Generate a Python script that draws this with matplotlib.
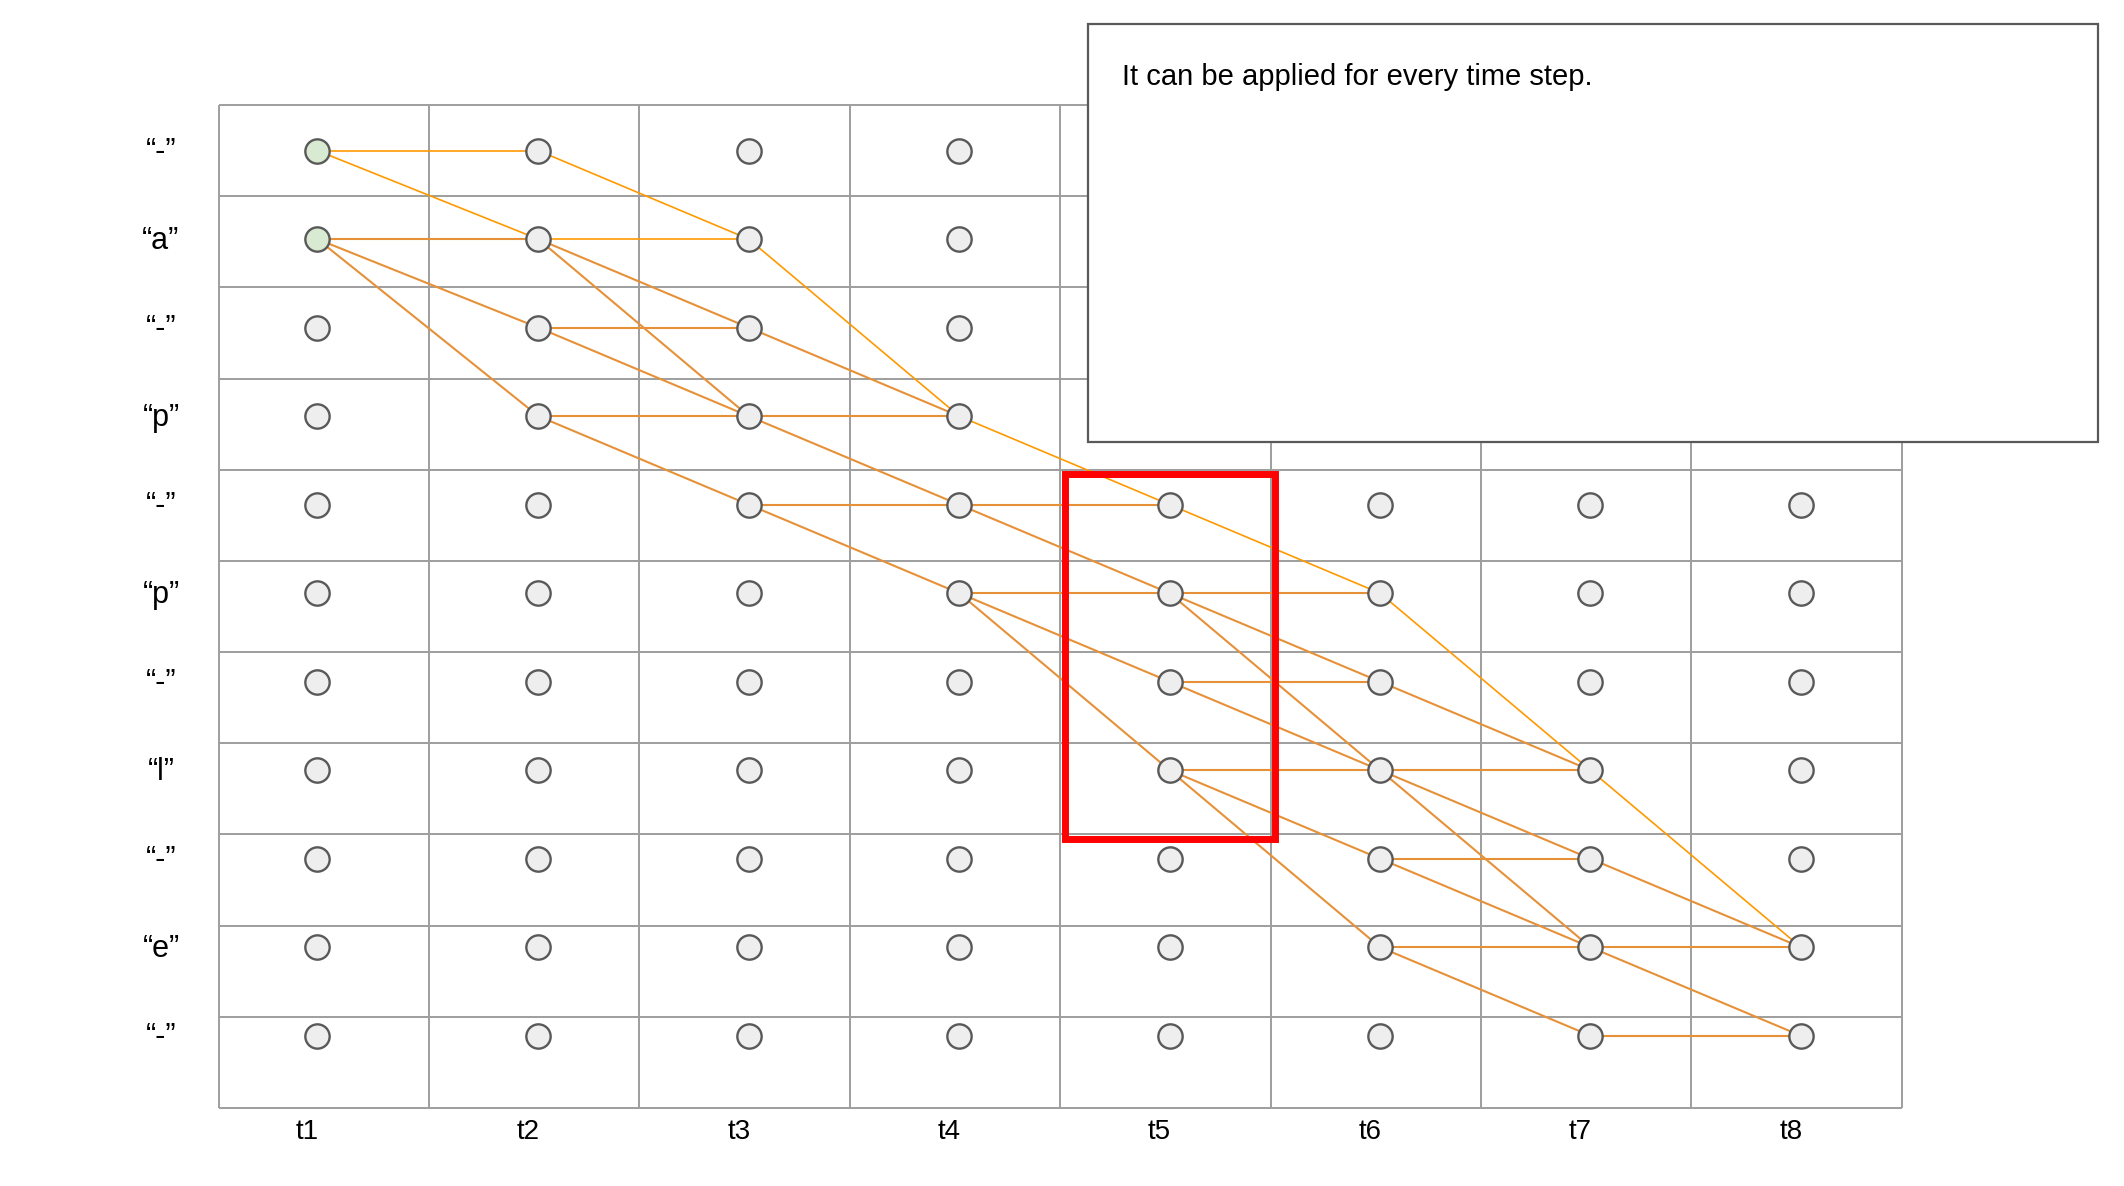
import numpy as np
import matplotlib
matplotlib.use('Agg')
import matplotlib.pyplot as plt
import matplotlib.transforms as mtransforms
from matplotlib.patches import Rectangle

plt.rcParams['font.family'] = ['Liberation Sans', 'DejaVu Sans']

# --- data ---
time_labels = ['t1', 't2', 't3', 't4', 't5', 't6', 't7', 't8']
row_labels = ['“-”', '“a”', '“-”', '“p”', '“-”', '“p”', '“-”', '“l”', '“-”', '“e”', '“-”']

# transitions: (time index, from row, to row)
edges = [
    (0, 0, 0), (0, 0, 1), (0, 1, 1), (0, 1, 2), (0, 1, 3),
    (1, 0, 1), (1, 1, 1), (1, 1, 2), (1, 1, 3), (1, 2, 2), (1, 2, 3), (1, 3, 3), (1, 3, 4),
    (2, 1, 3), (2, 2, 3), (2, 3, 3), (2, 3, 4), (2, 4, 4), (2, 4, 5),
    (3, 3, 4), (3, 4, 4), (3, 4, 5), (3, 5, 5), (3, 5, 6), (3, 5, 7),
    (4, 4, 5), (4, 5, 5), (4, 5, 6), (4, 5, 7), (4, 6, 6), (4, 6, 7), (4, 7, 7), (4, 7, 8), (4, 7, 9),
    (5, 5, 7), (5, 6, 7), (5, 7, 7), (5, 7, 8), (5, 7, 9), (5, 8, 8), (5, 8, 9), (5, 9, 9), (5, 9, 10),
    (6, 7, 9), (6, 8, 9), (6, 9, 9), (6, 9, 10), (6, 10, 10),
]
# edges drawn in the lighter orange
bright_edges = [
    (0, 0, 0), (0, 0, 1), (1, 0, 1), (1, 1, 1),
    (2, 1, 3), (3, 3, 4), (4, 4, 5), (5, 5, 7), (6, 7, 9),
]
start_rows = [0, 1]          # green nodes at t1
highlight_time = 4           # red box column (t5)
highlight_rows = (4, 7)      # red box rows

note_text = 'It can be applied for every time step.'

# --- layout ---
W, H = 2124, 1186
fig = plt.figure(figsize=(W / 100, H / 100), dpi=100)
fig.patch.set_facecolor('white')

grid_l, grid_r, grid_t, grid_b = 218.6, 1901.8, 105, 1108
ax = fig.add_axes([grid_l / W, 1 - grid_b / H, (grid_r - grid_l) / W, (grid_b - grid_t) / H])
ax.set_axis_off()

n_t = len(time_labels)
n_r = len(row_labels)
y_top, y_bot = -0.516, 10.817
ax.set_xlim(-0.52, n_t - 0.52)
ax.set_ylim(y_bot, y_top)


def node_x(t):
    # the first column of nodes sits a little left of the others in the slide
    return t - 0.05 if t == 0 else t


col_edges = np.arange(n_t + 1) - 0.52
row_edges = np.linspace(y_top, y_bot, n_r + 1)
grid_color = '#9e9e9e'
ax.vlines(col_edges, y_top, y_bot, color=grid_color, lw=1.4, zorder=1, clip_on=False)
ax.hlines(row_edges, col_edges[0], col_edges[-1], color=grid_color, lw=1.4, zorder=1, clip_on=False)

# transitions
for e in edges:
    t, r0, r1 = e
    xs = [node_x(t), node_x(t + 1)]
    if e in bright_edges:
        ax.plot(xs, [r0, r1], color='#ff9900', lw=1.2, zorder=2, solid_capstyle='butt')
    else:
        ax.plot(xs, [r0, r1], color='#e69138', lw=1.5, zorder=2, solid_capstyle='butt')

# nodes
for t in range(n_t):
    for r in range(n_r):
        face = '#d9ead3' if (t == 0 and r in start_rows) else '#eeeeee'
        ax.plot(node_x(t), r, 'o', ms=17.5, mfc=face, mec='#595959', mew=1.7, zorder=3, clip_on=False)

# row labels
for r, lab in enumerate(row_labels):
    ax.text(-0.794, r + 0.11, lab, fontsize=22, ha='center', va='baseline', color='black')

# time labels
shift = mtransforms.ScaledTranslation(-10 / 100, 0, fig.dpi_scale_trans)
for t, lab in enumerate(time_labels):
    ax.text(node_x(t), 11.17, lab, fontsize=20, ha='center', va='baseline', color='black',
            transform=ax.transData + shift, clip_on=False)

# red highlight box
r_a, r_b = highlight_rows
ax.add_patch(Rectangle((highlight_time - 0.497, row_edges[r_a] + 0.05), 1.0,
                       row_edges[r_b + 1] - row_edges[r_a],
                       fill=False, edgecolor='#ff0000', lw=5, zorder=4, clip_on=False))

# note box on top
box = Rectangle((1088 / W, 1 - 442 / H), (2098 - 1088) / W, (442 - 24) / H,
                transform=fig.transFigure, facecolor='white', edgecolor='#595959', lw=1.6, zorder=5)
fig.add_artist(box)
fig.text(1122 / W, 1 - 85 / H, note_text, fontsize=21, ha='left', va='baseline', zorder=6)

fig.savefig('out.png', dpi=100)
